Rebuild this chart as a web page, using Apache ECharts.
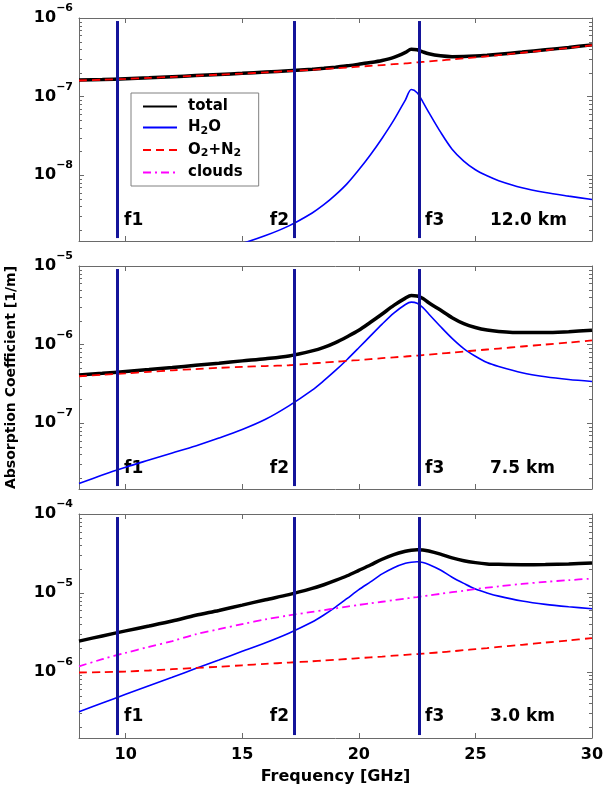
<!DOCTYPE html>
<html>
<head>
<meta charset="utf-8">
<script src="https://cdn.jsdelivr.net/npm/echarts@6/dist/echarts.min.js"></script>
<style>
  html, body { margin: 0; padding: 0; background: #fff; }
  #chart { width: 605px; height: 785px; }
</style>
</head>
<body>
<div id="chart"></div>
<script>
// frequency grid [GHz]
const freq = [8, 9, 10, 11, 12, 13, 14, 15, 16, 17, 18, 18.5, 19, 19.5, 20, 20.5, 21, 21.5, 22, 22.25, 22.5, 22.75, 23, 23.5, 24, 24.5, 25, 25.5, 26, 27, 28, 29, 30];

// 12.0 km
const total12 = [1.62e-7, 1.645e-7, 1.69e-7, 1.735e-7, 1.79e-7, 1.85e-7, 1.91e-7, 1.975e-7, 2.05e-7, 2.13e-7, 2.22e-7, 2.29e-7, 2.37e-7, 2.46e-7, 2.58e-7, 2.71e-7, 2.88e-7, 3.15e-7, 3.65e-7, 4.0e-7, 3.95e-7, 3.7e-7, 3.5e-7, 3.3e-7, 3.22e-7, 3.23e-7, 3.28e-7, 3.36e-7, 3.46e-7, 3.68e-7, 3.94e-7, 4.22e-7, 4.55e-7];
const h2o12 = [3.55e-10, 4.17e-10, 5.0e-10, 6.0e-10, 7.4e-10, 9.1e-10, 1.12e-9, 1.35e-9, 1.7e-9, 2.26e-9, 3.3e-9, 4.2e-9, 5.6e-9, 7.8e-9, 1.17e-8, 1.82e-8, 2.95e-8, 5.0e-8, 9.1e-8, 1.23e-7, 1.12e-7, 8.5e-8, 6.3e-8, 3.55e-8, 2.14e-8, 1.51e-8, 1.17e-8, 9.8e-9, 8.5e-9, 6.9e-9, 6.0e-9, 5.4e-9, 4.9e-9];
const dry12 = [1.6e-7, 1.64e-7, 1.68e-7, 1.73e-7, 1.78e-7, 1.84e-7, 1.9e-7, 1.96e-7, 2.03e-7, 2.11e-7, 2.19e-7, 2.24e-7, 2.29e-7, 2.34e-7, 2.4e-7, 2.46e-7, 2.52e-7, 2.58e-7, 2.64e-7, 2.68e-7, 2.72e-7, 2.76e-7, 2.8e-7, 2.88e-7, 2.97e-7, 3.06e-7, 3.16e-7, 3.26e-7, 3.37e-7, 3.61e-7, 3.88e-7, 4.17e-7, 4.5e-7];

// 7.5 km
const total75 = [4.1e-7, 4.3e-7, 4.55e-7, 4.8e-7, 5.1e-7, 5.45e-7, 5.8e-7, 6.2e-7, 6.6e-7, 7.15e-7, 8.3e-7, 9.2e-7, 1.06e-6, 1.26e-6, 1.52e-6, 1.92e-6, 2.45e-6, 3.15e-6, 3.9e-6, 4.2e-6, 4.15e-6, 3.85e-6, 3.4e-6, 2.75e-6, 2.2e-6, 1.85e-6, 1.65e-6, 1.53e-6, 1.47e-6, 1.42e-6, 1.42e-6, 1.46e-6, 1.52e-6];
const h2o75 = [1.7e-8, 2.19e-8, 2.75e-8, 3.39e-8, 4.17e-8, 5.13e-8, 6.46e-8, 8.3e-8, 1.12e-7, 1.66e-7, 2.63e-7, 3.47e-7, 4.68e-7, 6.46e-7, 9.1e-7, 1.29e-6, 1.82e-6, 2.51e-6, 3.24e-6, 3.47e-6, 3.35e-6, 2.95e-6, 2.45e-6, 1.7e-6, 1.2e-6, 8.9e-7, 7.1e-7, 5.9e-7, 5.25e-7, 4.37e-7, 3.89e-7, 3.59e-7, 3.39e-7];
const dry75 = [3.95e-7, 4.13e-7, 4.3e-7, 4.5e-7, 4.7e-7, 4.88e-7, 5.05e-7, 5.2e-7, 5.33e-7, 5.45e-7, 5.75e-7, 5.9e-7, 6.05e-7, 6.2e-7, 6.35e-7, 6.52e-7, 6.7e-7, 6.88e-7, 7.05e-7, 7.15e-7, 7.25e-7, 7.35e-7, 7.45e-7, 7.67e-7, 7.9e-7, 8.15e-7, 8.4e-7, 8.65e-7, 8.9e-7, 9.45e-7, 1.0e-6, 1.06e-6, 1.13e-6];

// 3.0 km
const total30 = [2.45e-6, 2.85e-6, 3.3e-6, 3.8e-6, 4.4e-6, 5.2e-6, 6.0e-6, 7.0e-6, 8.2e-6, 9.5e-6, 1.14e-5, 1.27e-5, 1.44e-5, 1.65e-5, 1.93e-5, 2.26e-5, 2.67e-5, 3.06e-5, 3.37e-5, 3.48e-5, 3.53e-5, 3.5e-5, 3.4e-5, 3.1e-5, 2.78e-5, 2.56e-5, 2.42e-5, 2.33e-5, 2.3e-5, 2.28e-5, 2.29e-5, 2.33e-5, 2.4e-5];
const h2o30 = [3.13e-7, 4.03e-7, 5.19e-7, 6.68e-7, 8.51e-7, 1.1e-6, 1.41e-6, 1.82e-6, 2.34e-6, 3.09e-6, 4.27e-6, 5.25e-6, 6.61e-6, 8.51e-6, 1.1e-5, 1.38e-5, 1.74e-5, 2.09e-5, 2.37e-5, 2.45e-5, 2.48e-5, 2.43e-5, 2.29e-5, 1.95e-5, 1.58e-5, 1.32e-5, 1.12e-5, 1.0e-5, 9.1e-6, 7.9e-6, 7.16e-6, 6.68e-6, 6.31e-6];
const dry30 = [9.8e-7, 9.9e-7, 1.01e-6, 1.04e-6, 1.08e-6, 1.12e-6, 1.16e-6, 1.21e-6, 1.26e-6, 1.31e-6, 1.36e-6, 1.39e-6, 1.42e-6, 1.455e-6, 1.49e-6, 1.525e-6, 1.56e-6, 1.6e-6, 1.64e-6, 1.66e-6, 1.68e-6, 1.7e-6, 1.72e-6, 1.77e-6, 1.82e-6, 1.88e-6, 1.94e-6, 2.0e-6, 2.07e-6, 2.2e-6, 2.35e-6, 2.5e-6, 2.68e-6];
const clouds30 = [1.175e-6, 1.445e-6, 1.74e-6, 2.07e-6, 2.45e-6, 2.99e-6, 3.47e-6, 4.03e-6, 4.62e-6, 5.19e-6, 5.75e-6, 6.05e-6, 6.37e-6, 6.7e-6, 7.05e-6, 7.38e-6, 7.73e-6, 8.09e-6, 8.47e-6, 8.67e-6, 8.87e-6, 9.08e-6, 9.29e-6, 9.73e-6, 1.02e-5, 1.067e-5, 1.117e-5, 1.164e-5, 1.21e-5, 1.3e-5, 1.38e-5, 1.45e-5, 1.52e-5];

// channel frequencies
const fFreq = [9.63, 17.23, 22.59];
const fNames = ['f1', 'f2', 'f3'];

const heights = ['12.0 km', '7.5 km', '3.0 km'];
const yMax = [1e-6, 1e-5, 1e-4];
const yMin = [1.45e-9, 1.45e-8, 1.45e-7];

const panels = [
  { total: total12, h2o: h2o12, dry: dry12 },
  { total: total75, h2o: h2o75, dry: dry75 },
  { total: total30, h2o: h2o30, dry: dry30, clouds: clouds30 },
];

const font = 'DejaVu Sans';
const axisColor = '#6a6a6a';
const tops = [18, 266, 514];
const gridH = [223, 223, 224];

function pair(arr) {
  return freq.map((f, i) => [f, arr[i]]);
}

// log minor tick positions (2..9 x 10^n) inside the axis range
function minorTicks(lo, hi) {
  const out = [];
  for (let d = Math.floor(Math.log10(lo)); d < Math.round(Math.log10(hi)); d++) {
    for (let k = 2; k <= 9; k++) {
      const v = k * Math.pow(10, d);
      if (v > lo && v < hi) out.push([8, v]);
    }
  }
  return out;
}

const chart = echarts.init(document.getElementById('chart'), null, { renderer: 'canvas' });

const grid = tops.map((t, i) => ({
  left: 79, top: t, width: 513, height: gridH[i],
  outerBoundsMode: 'none', containLabel: false,
}));

const xAxis = [];
const yAxis = [];
tops.forEach((t, i) => {
  const base = {
    type: 'value', gridIndex: i, min: 8, max: 30,
    axisLine: { show: true, onZero: false, lineStyle: { color: axisColor, width: 1 } },
    axisTick: { show: true, inside: true, length: 5, lineStyle: { color: axisColor } },
    splitLine: { show: false },
  };
  xAxis.push(Object.assign({}, base, {
    position: 'bottom',
    axisLabel: {
      show: i === 2, color: '#000', fontFamily: font, fontWeight: 'bold', fontSize: 16, margin: 9,
      formatter: (v) => (v % 5 === 0 ? String(v) : ''),
    },
    name: i === 2 ? 'Frequency [GHz]' : '',
    nameLocation: 'middle', nameGap: 31,
    nameTextStyle: { color: '#000', fontFamily: font, fontWeight: 'bold', fontSize: 16 },
  }));
  xAxis.push(Object.assign({}, base, { position: 'top', axisLabel: { show: false } }));

  const ybase = {
    type: 'log', logBase: 10, gridIndex: i, min: yMin[i], max: yMax[i],
    axisLine: { show: true, onZero: false, lineStyle: { color: axisColor, width: 1 } },
    axisTick: { show: true, inside: true, length: 5, lineStyle: { color: axisColor } },
    splitLine: { show: false },
  };
  yAxis.push(Object.assign({}, ybase, {
    position: 'left',
    axisLabel: {
      show: true, margin: 6,
      formatter: (v) => {
        const l = Math.log10(v);
        const e = Math.round(l);
        if (Math.abs(l - e) > 1e-6) return '';
        return '{b|10}{e|\u2212' + (-e) + '}';
      },
      rich: {
        b: { fontFamily: font, fontWeight: 'bold', fontSize: 16, color: '#000', lineHeight: 30 },
        e: { fontFamily: font, fontWeight: 'bold', fontSize: 11, color: '#000', lineHeight: 12, verticalAlign: 'top' },
      },
    },
    name: i === 1 ? 'Absorption Coefficient [1/m]' : '',
    nameLocation: 'middle', nameGap: 61,
    nameTextStyle: { color: '#000', fontFamily: font, fontWeight: 'bold', fontSize: 14 },
  }));
  yAxis.push(Object.assign({}, ybase, { position: 'right', axisLabel: { show: false } }));
});

const series = [];
panels.forEach((p, i) => {
  const xi = i * 2, yi = i * 2;
  const common = { type: 'line', xAxisIndex: xi, yAxisIndex: yi, symbol: 'none', smooth: 0.3 };
  series.push(Object.assign({}, common, {
    name: 'total', data: pair(p.total),
    lineStyle: { color: '#000', width: 3.5 }, itemStyle: { color: '#000' },
  }));
  series.push(Object.assign({}, common, {
    name: 'H2O', data: pair(p.h2o),
    lineStyle: { color: '#0000ff', width: 1.6 }, itemStyle: { color: '#0000ff' },
  }));
  series.push(Object.assign({}, common, {
    name: 'O2+N2', data: pair(p.dry),
    lineStyle: { color: '#ff0000', width: 1.8, type: [8, 5] }, itemStyle: { color: '#ff0000' },
  }));
  if (p.clouds) {
    series.push(Object.assign({}, common, {
      name: 'clouds', data: pair(p.clouds),
      lineStyle: { color: '#ff00ff', width: 1.8, type: [8, 4, 2, 4] }, itemStyle: { color: '#ff00ff' },
    }));
  }
  // channel lines
  series.push({
    name: 'channels', type: 'line', xAxisIndex: xi, yAxisIndex: yi, data: [],
    markLine: {
      silent: true, symbol: 'none', animation: false,
      label: { show: false },
      lineStyle: { color: '#14149a', width: 3, type: 'solid' },
      data: fFreq.map((f) => [{ coord: [f, yMax[i] * 0.915] }, { coord: [f, yMin[i] * 1.09] }]),
    },
  });
  // minor ticks of the log axes (left and right)
  series.push({
    name: 'minor', type: 'custom', xAxisIndex: xi, yAxisIndex: yi, silent: true,
    data: minorTicks(yMin[i], yMax[i]),
    renderItem: (params, api) => {
      const v = api.value(1);
      const pl = api.coord([8, v]);
      const pr = api.coord([30, v]);
      const y = Math.round(pl[1]) + 0.5;
      return {
        type: 'group',
        children: [
          { type: 'line', shape: { x1: pl[0], y1: y, x2: pl[0] + 3, y2: y }, style: { stroke: axisColor, lineWidth: 1 } },
          { type: 'line', shape: { x1: pr[0], y1: y, x2: pr[0] - 3, y2: y }, style: { stroke: axisColor, lineWidth: 1 } },
        ],
      };
    },
  });
});

const legendText = {
  total: '{n|total}',
  H2O: '{n|H}{s|2}{n|O}',
  'O2+N2': '{n|O}{s|2}{n|+N}{s|2}',
  clouds: '{n|clouds}',
};

// annotation texts
const graphic = [];
tops.forEach((t, i) => {
  const y = t + 203;
  const st = { fill: '#000', font: 'bold 17px "DejaVu Sans"', verticalAlign: 'middle' };
  graphic.push({ type: 'text', x: 124, y: y, style: Object.assign({ text: fNames[0], align: 'left' }, st) });
  graphic.push({ type: 'text', x: 289, y: y, style: Object.assign({ text: fNames[1], align: 'right' }, st) });
  graphic.push({ type: 'text', x: 425, y: y, style: Object.assign({ text: fNames[2], align: 'left' }, st) });
  graphic.push({ type: 'text', x: 490, y: y, style: Object.assign({ text: heights[i], align: 'left' }, st) });
});

chart.setOption({
  animation: false,
  backgroundColor: '#fff',
  grid: grid,
  xAxis: xAxis,
  yAxis: yAxis,
  legend: {
    data: ['total', 'H2O', 'O2+N2', 'clouds'],
    orient: 'vertical',
    left: 131, top: 93,
    padding: [6, 16, 6, 11],
    itemGap: 6,
    itemWidth: 34, itemHeight: 14,
    backgroundColor: '#fff',
    borderColor: '#808080', borderWidth: 1, borderRadius: 0,
    selectedMode: false,
    itemStyle: { opacity: 0 },
    formatter: (name) => legendText[name],
    textStyle: {
      color: '#000', fontFamily: font, fontWeight: 'bold', fontSize: 15, padding: [0, 0, 0, 6],
      rich: {
        n: { color: '#000', fontFamily: font, fontWeight: 'bold', fontSize: 15, lineHeight: 18 },
        s: { color: '#000', fontFamily: font, fontWeight: 'bold', fontSize: 11, lineHeight: 8, verticalAlign: 'bottom' },
      },
    },
  },
  graphic: graphic,
  series: series,
});
</script>
</body>
</html>
